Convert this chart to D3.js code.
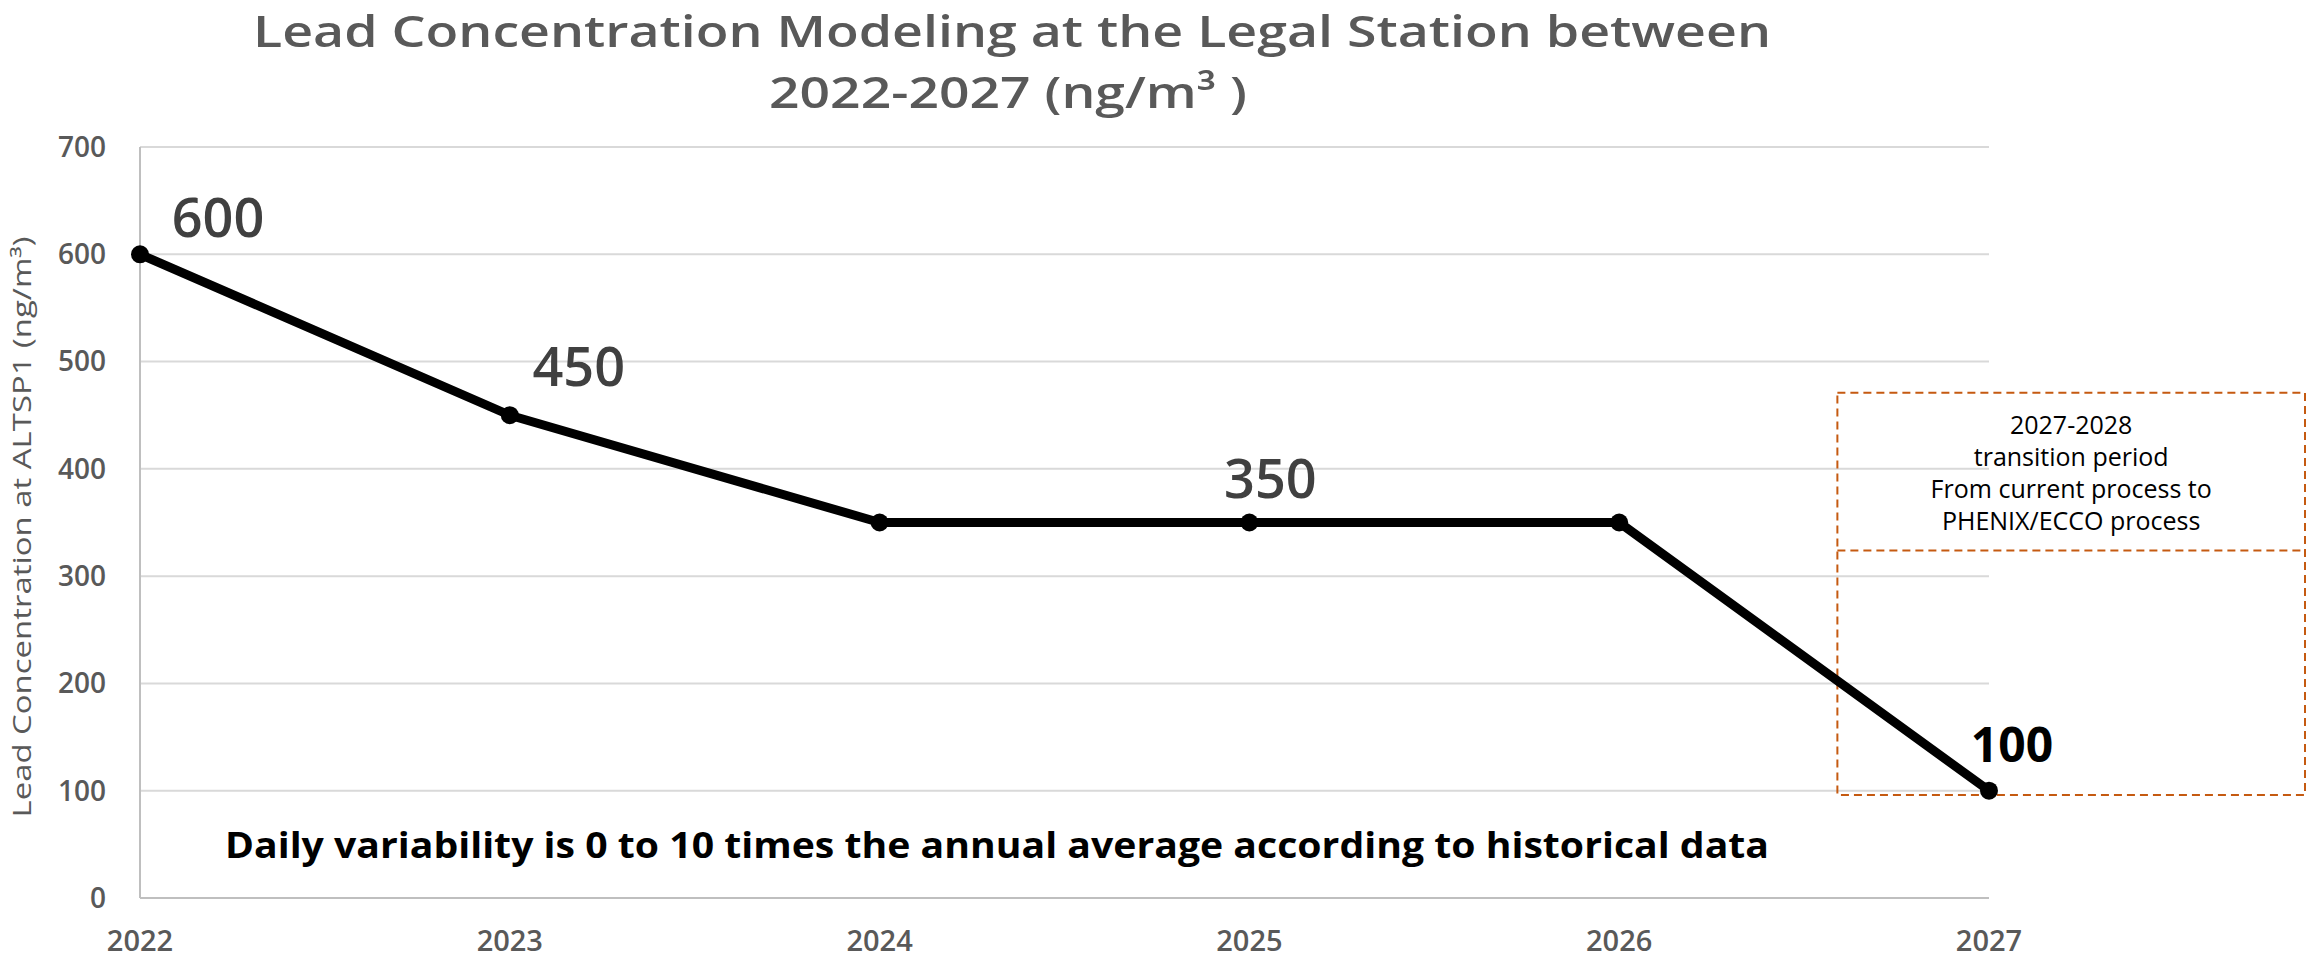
<!DOCTYPE html>
<html lang="en">
<head>
  <meta charset="UTF-8">
  <title>Lead Concentration Modeling</title>
  <style>
    body { margin: 0; background: #fff; }
    svg { display: block; font-family: "Open Sans", sans-serif; }
    .grid line { stroke: #d9d9d9; stroke-width: 2; }
    .tick-y { fill: #595959; font-size: 28px; font-weight: 600; }
    .tick-x { fill: #595959; font-size: 29px; font-weight: 600; }
    .title { fill: #595959; font-size: 44px; font-weight: 600; }
    .note { fill: #000; font-size: 25px; }
  </style>
</head>
<body>
<svg width="2308" height="962"></svg>
<script src="https://d3js.org/d3.v7.min.js"></script>
<script>
  const years = [2022, 2023, 2024, 2025, 2026, 2027];
  const values = [600, 450, 350, 350, 350, 100];
  const yTicks = [0, 100, 200, 300, 400, 500, 600, 700];
  const labelYears = [2022, 2023, 2025, 2027];
  const noteLines = ["2027-2028", "transition period", "From current process to", "PHENIX/ECCO process"];

  const svg = d3.select("svg");
  const x = d3.scaleLinear().domain([2022, 2027]).range([140, 1989]);
  const y = d3.scaleLinear().domain([0, 700]).range([898, 147]);

  // gridlines
  svg.append("g").attr("class", "grid")
    .selectAll("line").data(yTicks.slice(1)).enter().append("line")
    .attr("x1", x(2022)).attr("x2", x(2027))
    .attr("y1", d => y(d)).attr("y2", d => y(d));

  // axes lines
  svg.append("line").attr("x1", x(2022)).attr("x2", x(2022)).attr("y1", y(700)).attr("y2", y(0))
    .attr("stroke", "#bfbfbf").attr("stroke-width", 2);
  svg.append("line").attr("x1", x(2022)).attr("x2", x(2027)).attr("y1", y(0)).attr("y2", y(0))
    .attr("stroke", "#bfbfbf").attr("stroke-width", 2);

  // y tick labels
  svg.selectAll(".tick-y").data(yTicks).enter().append("text")
    .attr("class", "tick-y")
    .attr("x", 106).attr("y", d => y(d))
    .attr("dy", "0.35em").attr("text-anchor", "end")
    .text(d => d);

  // x tick labels
  svg.selectAll(".tick-x").data(years).enter().append("text")
    .attr("class", "tick-x")
    .attr("x", d => x(d)).attr("y", 951)
    .attr("text-anchor", "middle")
    .text(d => d);

  // title
  svg.append("text").attr("class", "title")
    .attr("x", 1012).attr("y", 47).attr("text-anchor", "middle")
    .attr("textLength", 1518).attr("lengthAdjust", "spacingAndGlyphs")
    .text("Lead Concentration Modeling at the Legal Station between");
  svg.append("text").attr("class", "title")
    .attr("x", 1008).attr("y", 108).attr("text-anchor", "middle")
    .attr("textLength", 478).attr("lengthAdjust", "spacingAndGlyphs")
    .text("2022-2027  (ng/m\u00B3 )");

  // y axis title
  svg.append("text")
    .attr("transform", "translate(21,527) rotate(-90)")
    .attr("text-anchor", "middle").attr("dominant-baseline", "central")
    .attr("fill", "#595959").style("font-size", "25px")
    .attr("textLength", 581).attr("lengthAdjust", "spacingAndGlyphs")
    .text("Lead Concentration at ALTSP1 (ng/m\u00B3)");

  // transition box
  const box = svg.append("g");
  box.append("rect")
    .attr("x", x(2026.59)).attr("y", y(471))
    .attr("width", 2305 - x(2026.59)).attr("height", y(96) - y(471))
    .attr("fill", "none").attr("stroke", "#c55a11").attr("stroke-width", 2)
    .attr("stroke-dasharray", "8,5");
  box.append("line")
    .attr("x1", x(2026.59)).attr("x2", 2305)
    .attr("y1", y(324)).attr("y2", y(324))
    .attr("stroke", "#c55a11").attr("stroke-width", 2)
    .attr("stroke-dasharray", "8,5");
  box.selectAll(".note").data(noteLines).enter().append("text")
    .attr("class", "note")
    .attr("x", (x(2026.59) + 2305) / 2)
    .attr("y", (d, i) => 434 + i * 32)
    .attr("text-anchor", "middle")
    .text(d => d);

  // line
  const pts = years.map((yr, i) => ({ year: yr, value: values[i] }));
  svg.append("path").datum(pts)
    .attr("fill", "none").attr("stroke", "#000").attr("stroke-width", 9)
    .attr("stroke-linejoin", "round")
    .attr("d", d3.line().x(d => x(d.year)).y(d => y(d.value)));
  svg.selectAll(".pt").data(pts).enter().append("circle")
    .attr("cx", d => x(d.year)).attr("cy", d => y(d.value)).attr("r", 9)
    .attr("fill", "#000");

  // data labels
  const labelOffsets = [[78, -17], [69, -29], [21, -25], [23, -29]];
  labelYears.forEach((yr, i) => {
    const v = values[years.indexOf(yr)];
    const last = i === labelYears.length - 1;
    svg.append("text")
      .attr("x", x(yr) + labelOffsets[i][0]).attr("y", y(v) + labelOffsets[i][1])
      .attr("text-anchor", "middle")
      .attr("fill", last ? "#000" : "#404040")
      .style("font-size", last ? "48px" : "54px")
      .style("font-weight", last ? 700 : 600)
      .text(v);
  });

  // bottom note
  svg.append("text")
    .attr("x", 997).attr("y", 858).attr("text-anchor", "middle")
    .style("font-size", "35px").style("font-weight", 700)
    .attr("textLength", 1544).attr("lengthAdjust", "spacingAndGlyphs")
    .text("Daily variability is 0 to 10 times the annual average according to historical data");
</script>
</body>
</html>
